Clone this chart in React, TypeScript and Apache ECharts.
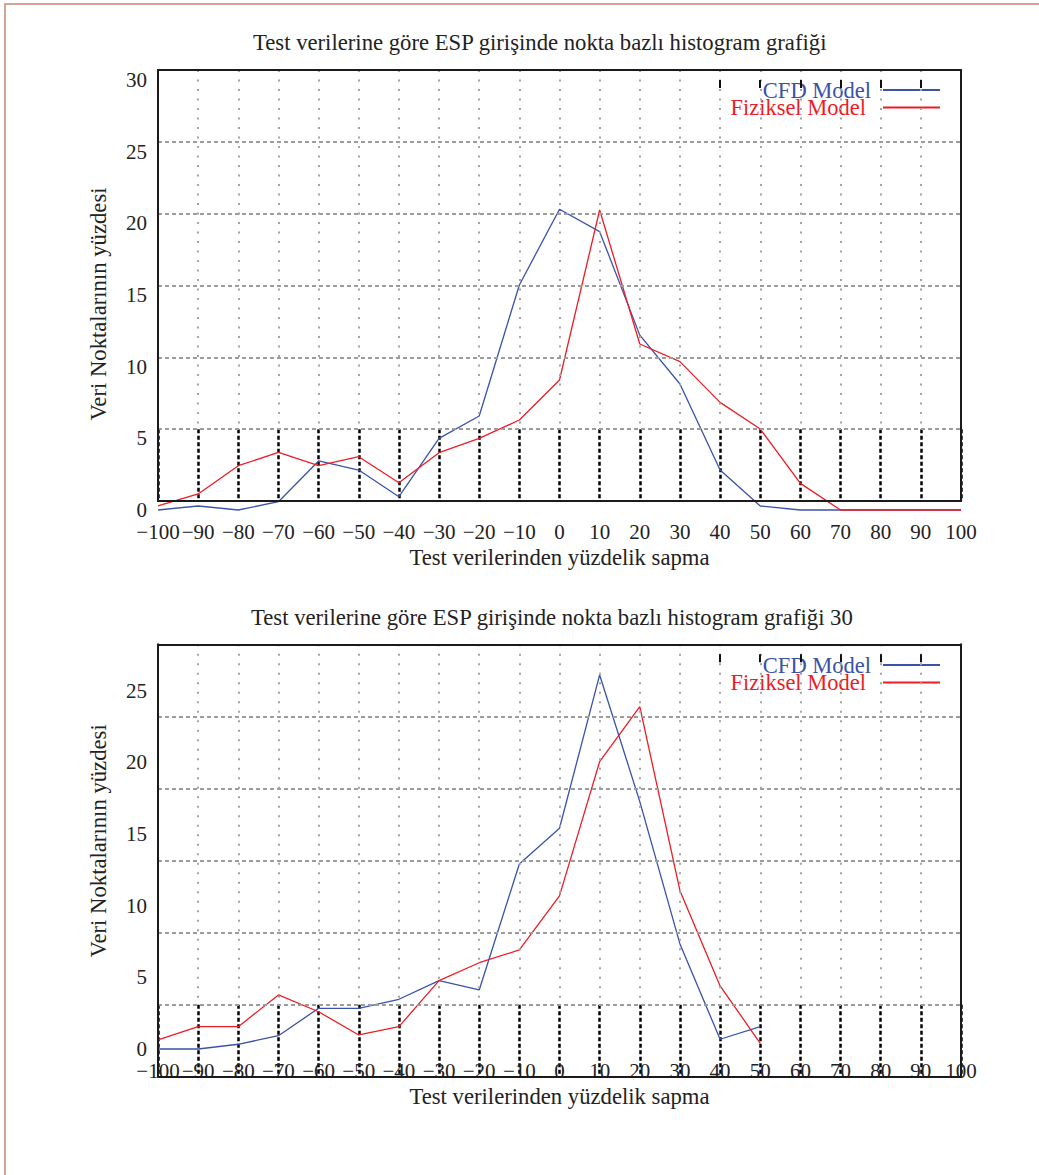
import React, { useEffect, useRef } from "react";
import * as echarts from "echarts";

// ---------- data ----------
const xValues = [-100, -90, -80, -70, -60, -50, -40, -30, -20, -10, 0, 10, 20, 30, 40, 50, 60, 70, 80, 90, 100];

// Panel 1
const cfdTop = [0.0, 0.28, 0.0, 0.58, 3.42, 2.79, 0.93, 5.0, 6.56, 15.7, 20.98, 19.42, 12.2, 8.79, 2.79, 0.28, 0, 0, 0, 0, 0];
const fizTop = [0.28, 1.12, 3.09, 4.02, 3.09, 3.72, 1.9, 4.0, 5.0, 6.28, 9.07, 20.93, 11.58, 10.35, 7.51, 5.65, 1.86, 0, 0, 0, 0];

// Panel 2 (series stop at 50)
const cfdBottom = [0, 0, 0.33, 0.93, 2.84, 2.84, 3.47, 4.77, 4.12, 12.91, 15.4, 26.1, 17.26, 7.33, 0.68, 1.56];
const fizBottom = [0.63, 1.56, 1.56, 3.77, 2.6, 0.98, 1.56, 4.77, 6.02, 6.91, 10.68, 20.05, 23.89, 11.05, 4.4, 0.4];

const yTicksTop = [0, 5, 10, 15, 20, 25, 30];
const yTicksBottom = [0, 5, 10, 15, 20, 25];
const topTicks = [40, 50, 60, 70, 80, 90];

const seriesNames = ["CFD Model", "Fiziksel Model"];
const titles = [
  "Test verilerine göre ESP girişinde nokta bazlı histogram grafiği",
  "Test verilerine göre ESP girişinde nokta bazlı histogram grafiği 30",
];
const xName = "Test verilerinden yüzdelik sapma";
const yName = "Veri Noktalarının yüzdesi";

// ---------- style ----------
const FONT = "Liberation Serif";
const TXT = "#222";
const BLUE = "#3a52a8";
const RED = "#ee1c25";
const BORDER = "#1a1a1a";
const L = 158;
const W = 803;

const fmtX = (v: number) => (v < 0 ? "\u2212" + Math.abs(v) : String(v));

function pairs(vals: number[]) {
  return vals.map((v, i) => [xValues[i], v]);
}

const off = { show: false };

function buildPanel(idx: number, cfg: any) {
  const base = idx * 5;
  const split = cfg.boxTop + ((cfg.boxBottom - cfg.boxTop) * 5) / 6;
  const borderLine = { show: true, onZero: false, lineStyle: { color: BORDER, width: 2 } };
  const grids = [
    { left: L, width: W, top: cfg.dataTop, height: cfg.dataBottom - cfg.dataTop },
    { left: L, width: W, top: cfg.boxTop, height: cfg.boxBottom - cfg.boxTop },
    { left: L, width: W, top: cfg.boxTop, height: split - cfg.boxTop },
    { left: L, width: W, top: split, height: cfg.boxBottom - split },
    {
      left: L + ((topTicks[0] + 100) / 200) * W,
      width: ((topTicks[topTicks.length - 1] - topTicks[0]) / 200) * W,
      top: cfg.boxTop, height: 10,
    },
  ];
  const yt = cfg.yTicks as number[];
  const xAxes = [
    {
      gridIndex: base, type: "value", min: xValues[0], max: xValues[xValues.length - 1], interval: 10,
      axisLine: off, axisTick: off, splitLine: off,
      axisLabel: { margin: 11, fontFamily: FONT, fontSize: 21, color: TXT, formatter: fmtX },
      name: xName, nameLocation: "middle", nameGap: 36,
      nameTextStyle: { fontFamily: FONT, fontSize: 22.7, color: TXT },
    },
    {
      // bottom border of the box
      gridIndex: base + 1, type: "value", position: "bottom", min: -100, max: 100, interval: 10, z: 5,
      axisLine: borderLine, axisTick: off, axisLabel: off, splitLine: off,
    },
    {
      // gray dotted verticals + top border
      gridIndex: base + 2, type: "value", position: "top", min: -100, max: 100, interval: 10, z: 5,
      axisLine: borderLine, axisTick: off, axisLabel: off,
      splitLine: { show: true, lineStyle: { color: "#a4a4a4", width: 2, type: [2, 7.5] } },
    },
    {
      // black dashed verticals in lowest band
      gridIndex: base + 3, type: "value", min: -100, max: 100, interval: 10,
      axisLine: off, axisTick: off, axisLabel: off,
      splitLine: { show: true, lineStyle: { color: "#000", width: 2.5, type: [4, 2.5] } },
    },
    {
      gridIndex: base + 4, type: "value", position: "top", min: topTicks[0], max: topTicks[topTicks.length - 1], interval: 10,
      z: 6,
      axisLine: off, axisLabel: off, splitLine: off,
      axisTick: { show: true, inside: true, length: 8, lineStyle: { color: "#111", width: 2 } },
    },
  ];
  const yAxes = [
    {
      gridIndex: base, type: "value", min: yt[0], max: yt[yt.length - 1], interval: 5,
      axisLine: off, axisTick: off, splitLine: off,
      axisLabel: { margin: 11, fontFamily: FONT, fontSize: 21, color: TXT },
      name: yName, nameLocation: "middle", nameGap: 48,
      nameTextStyle: { fontFamily: FONT, fontSize: 22.7, color: TXT, padding: cfg.namePad },
    },
    {
      // horizontal dashed gridlines + left border
      gridIndex: base + 1, type: "value", position: "left", min: 0, max: 6, interval: 1, z: 5,
      axisLine: borderLine, axisTick: off, axisLabel: off,
      splitLine: { show: true, lineStyle: { color: "#9c9c9c", width: 2, type: [4, 3] } },
    },
    {
      // right border (upper part)
      gridIndex: base + 2, type: "value", position: "right", min: 0, max: 1, z: 5,
      axisLine: borderLine, axisTick: off, axisLabel: off, splitLine: off,
    },
    {
      // right border (lower band)
      gridIndex: base + 3, type: "value", position: "right", min: 0, max: 1, z: 5,
      axisLine: borderLine, axisTick: off, axisLabel: off, splitLine: off,
    },
    { gridIndex: base + 4, type: "value", show: false },
  ];
  const series = [
    {
      type: "line", name: seriesNames[0], xAxisIndex: base, yAxisIndex: base,
      data: pairs(cfg.cfd), showSymbol: false, symbol: "none", clip: false, z: 3,
      lineStyle: { color: BLUE, width: 1.3 }, itemStyle: { color: BLUE },
    },
    {
      type: "line", name: seriesNames[1], xAxisIndex: base, yAxisIndex: base,
      data: pairs(cfg.fiz), showSymbol: false, symbol: "none", clip: false, z: 3,
      lineStyle: { color: RED, width: 1.3 }, itemStyle: { color: RED },
    },
  ];
  const legendCommon = {
    orient: "vertical", align: "right", right: 99, padding: 0, icon: "rect",
    itemWidth: 57, itemHeight: 2, selectedMode: false,
  };
  const legends = [
    {
      ...legendCommon, top: cfg.legendTop,
      data: [{ name: seriesNames[0] }],
      textStyle: { fontFamily: FONT, fontSize: 22.5, lineHeight: 17, color: BLUE, padding: [0, 7, 0, 0] },
    },
    {
      ...legendCommon, top: cfg.legendTop + 17.5,
      data: [{ name: seriesNames[1] }],
      textStyle: { fontFamily: FONT, fontSize: 22.5, lineHeight: 17, color: RED, padding: [0, 12, 0, 0] },
    },
  ];
  const title = {
    text: cfg.title, left: cfg.titleLeft, top: cfg.titleTop, padding: 0,
    textStyle: { fontFamily: FONT, fontSize: 22.7, fontWeight: "normal", color: TXT },
  };
  const cover = {
    type: "rect", z: 3, silent: true,
    shape: { x: 700, y: cfg.boxTop + 2, width: 259, height: cfg.coverBottom - cfg.boxTop - 2 },
    style: { fill: "#fff" },
  };
  return { grids, xAxes, yAxes, series, legends, title, cover };
}

export default function App() {
  const ref = useRef<HTMLDivElement>(null);
  useEffect(() => {
    if (!ref.current) return;
    const chart = echarts.init(ref.current, undefined, { renderer: "svg" });
    const p1 = buildPanel(0, {
      boxTop: 70, boxBottom: 501, dataTop: 80, dataBottom: 510, yTicks: yTicksTop,
      cfd: cfdTop, fiz: fizTop, legendTop: 78.5, title: titles[0], titleLeft: 253, titleTop: 31,
      namePad: [0, 18, 0, 0], coverBottom: 114,
    });
    const p2 = buildPanel(1, {
      boxTop: 644.3, boxBottom: 1076.7, dataTop: 690.7, dataBottom: 1049, yTicks: yTicksBottom,
      cfd: cfdBottom, fiz: fizBottom, legendTop: 653.5, title: titles[1], titleLeft: 251, titleTop: 606,
      namePad: [0, 0, 0, 58], coverBottom: 692,
    });
    const frame = {
      type: "rect", silent: true, z: 0,
      shape: { x: 5, y: 4, width: 1040, height: 1180 },
      style: { fill: "none", stroke: "#c8866f", lineWidth: 1.5 },
    };
    chart.setOption({
      animation: false,
      backgroundColor: "#fff",
      title: [p1.title, p2.title],
      grid: [...p1.grids, ...p2.grids],
      xAxis: [...p1.xAxes, ...p2.xAxes],
      yAxis: [...p1.yAxes, ...p2.yAxes],
      legend: [...p1.legends, ...p2.legends],
      series: [...p1.series, ...p2.series],
      graphic: [frame, p1.cover, p2.cover],
    });
    return () => chart.dispose();
  }, []);
  return (
    <div
      ref={ref}
      style={{ position: "absolute", left: 0, top: 0, width: 1039, height: 1175 }}
    />
  );
}
